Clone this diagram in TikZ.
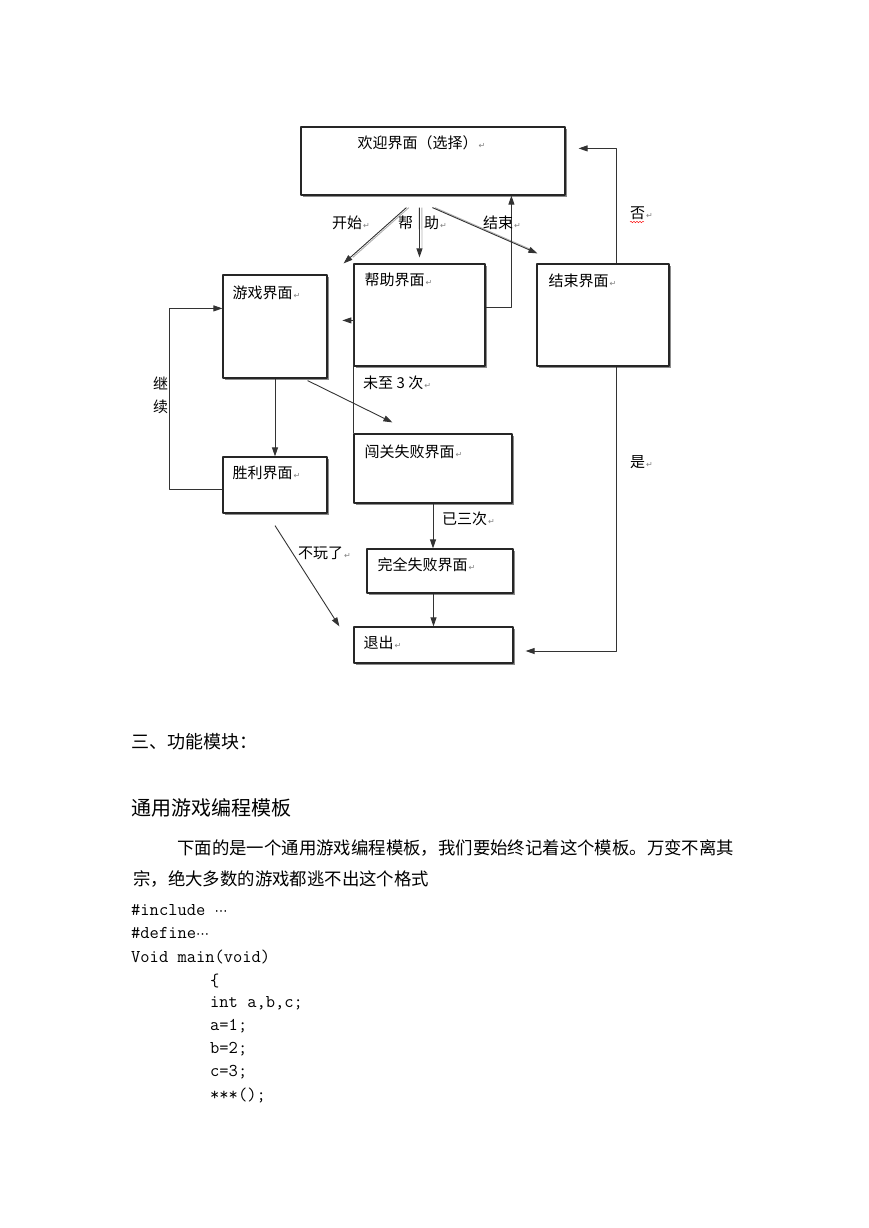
\documentclass[tikz,border=0pt]{standalone}
\usepackage{fontspec}
\usetikzlibrary{arrows.meta,shadows,decorations.pathmorphing}
\newfontfamily\cjk{Noto Sans CJK SC}
\newfontfamily\symf{DejaVu Sans}
\newcommand\pmk{{\kern1pt\symf\color{gray}\fontsize{8}{8}\selectfont ↵}}
\newcommand\mdots{{\symf\fontsize{13}{13}\selectfont ⋯}}

\begin{document}
\begin{tikzpicture}[x=1pt, y=-1pt, font=\cjk\fontsize{15}{16}\selectfont, line join=round, >={Triangle[length=9pt,width=6pt]},
    ubox/.style={draw=black!85, line width=1.2pt, fill=white, inner sep=0pt, drop shadow={shadow xshift=1.6pt, shadow yshift=-1.6pt, fill=black!45, opacity=1}},
    arr/.style={->, draw=black!80, line width=0.9pt},
    shd/.style={draw=black!30, line width=0.9pt, transform canvas={xshift=2.5pt}, shorten >=9pt},
    tx/.style={anchor=west, inner sep=0pt}]
\useasboundingbox (0,0) rectangle (869,1228);

% boxes
\node[ubox, minimum width=264, minimum height=68] (welcome) at (433,161) {};
\node[ubox, minimum width=131, minimum height=102] (help) at (419.5,315) {};
\node[ubox, minimum width=104, minimum height=103] (game) at (275,326.5) {};
\node[ubox, minimum width=132, minimum height=102] (over) at (603,315) {};
\node[ubox, minimum width=104, minimum height=56] (win) at (275,485) {};
\node[ubox, minimum width=158, minimum height=69] (fail) at (433,468.5) {};
\node[ubox, minimum width=146, minimum height=44] (lost) at (440,571) {};
\node[ubox, minimum width=159, minimum height=36] (quit) at (433.5,645) {};

\node[tx] (welcomeT) at ([shift={(57,16)}]welcome.north west) {欢迎界面（选择）\pmk};
\node[tx] (helpT) at ([shift={(11,16)}]help.north west) {帮助界面\pmk};
\node[tx] (gameT) at ([shift={(10,18)}]game.north west) {游戏界面\pmk};
\node[tx] (overT) at ([shift={(12,17)}]over.north west) {结束界面\pmk};
\node[tx] (winT) at ([shift={(10,16)}]win.north west) {胜利界面\pmk};
\node[tx] (failT) at ([shift={(11,18)}]fail.north west) {闯关失败界面\pmk};
\node[tx] (lostT) at ([shift={(11,16)}]lost.north west) {完全失败界面\pmk};
\node[tx] (quitT) at ([shift={(10,16)}]quit.north west) {退出\pmk};

% choices on the welcome screen
\coordinate (sPlay) at ([shift={(106,12)}]welcome.south west);
\coordinate (tPlay) at ([shift={(16,-11)}]game.north east);
\coordinate (sHelp) at ([shift={(119,12)}]welcome.south west);
\coordinate (tHelp) at ([shift={(0,-6)}]help.north);
\coordinate (sOver) at ([shift={(132,12)}]welcome.south west);
\coordinate (tOver) at ([shift={(1,-10)}]over.north west);
\foreach \s/\t in {sPlay/tPlay, sHelp/tHelp, sOver/tOver}{
  \draw[shd] (\s) -- (\t);
  \draw[arr] (\s) -- (\t);
}

\draw[arr] ([shift={(0,44)}]help.north east) -| ([shift={(211,0)}]welcome.south west);
\draw[arr] (fail.north west) |- ([shift={(-11,57)}]help.north west);
\draw[arr] ([shift={(80,0)}]over.north west) |- ([shift={(13,22)}]welcome.north east);
\draw[arr] ([shift={(80,0)}]over.south west) |- ([shift={(12,6)}]quit.east);
\draw[arr] (game.south) -- (win.north);
\draw[arr] ([shift={(-20,2)}]game.south east) -- ([shift={(39,-11)}]fail.north west);
\draw[arr] ([shift={(0,33)}]win.north west) -- ++(-53,0) |- ([shift={(0,34)}]game.north west);
\draw[arr] ([shift={(0,12)}]win.south) -- ([shift={(-14,0)}]quit.north west);
\draw[arr] (fail.south) -- (fail.south |- lost.north);
\draw[arr] (quit.north |- lost.south) -- (quit.north);

% labels
\node[tx] (lPlay) at (332,223) {开始\pmk};
\node[tx] (lHelpA) at (398,223) {帮};
\node[tx] (lHelpB) at (424,223) {助\pmk};
\node[tx] (lOver) at (483,223) {结束\pmk};
\node[tx] (lNo) at (630,213) {否\pmk};
\draw[red, decorate, decoration={snake, amplitude=0.8pt, segment length=3pt}] ([shift={(0,9)}]lNo.west) -- ++(14,0);
\node[tx] (lYes) at (630,462) {是\pmk};
\node[tx] (lLess) at (363,383) {未至 3 次\pmk};
\node[tx] (lThree) at (442,519) {已三次\pmk};
\node[tx] (lQuit) at (298,553) {不玩了\pmk};
\node[tx] (lGoA) at (153,383) {继};
\node[tx] (lGoB) at (153,407) {续};

% text below
\node[tx, font=\cjk\fontsize{18}{18}\selectfont] (sec) at (131,742) {三、功能模块：};
\node[tx, font=\cjk\fontsize{20}{20}\selectfont] (title) at (131,808) {通用游戏编程模板};
\node[tx, font=\cjk\fontsize{17.4}{18}\selectfont] (para1) at (177,848) {下面的是一个通用游戏编程模板，我们要始终记着这个模板。万变不离其};
\node[tx, font=\cjk\fontsize{17.4}{18}\selectfont] (para2) at (133,879) {宗，绝大多数的游戏都逃不出这个格式};

\node[tx, font=\ttfamily\fontsize{18}{18}\selectfont] (code1) at (131,910) {\#include \mdots};
\node[tx, font=\ttfamily\fontsize{18}{18}\selectfont] (code2) at (131,933) {\#define\mdots};
\node[tx, font=\ttfamily\fontsize{18}{18}\selectfont] (code3) at (131,957) {Void main(void)};
\node[tx, font=\ttfamily\fontsize{18}{18}\selectfont] (code4) at (210,981) {\{};
\node[tx, font=\ttfamily\fontsize{18}{18}\selectfont] (code5) at (210,1003) {int a,b,c;};
\node[tx, font=\ttfamily\fontsize{18}{18}\selectfont] (code6) at (210,1026) {a=1;};
\node[tx, font=\ttfamily\fontsize{18}{18}\selectfont] (code7) at (210,1049) {b=2;};
\node[tx, font=\ttfamily\fontsize{18}{18}\selectfont] (code8) at (210,1072) {c=3;};
\node[tx, font=\ttfamily\fontsize{18}{18}\selectfont] (code9) at (210,1095) {***();};
\end{tikzpicture}
\end{document}
